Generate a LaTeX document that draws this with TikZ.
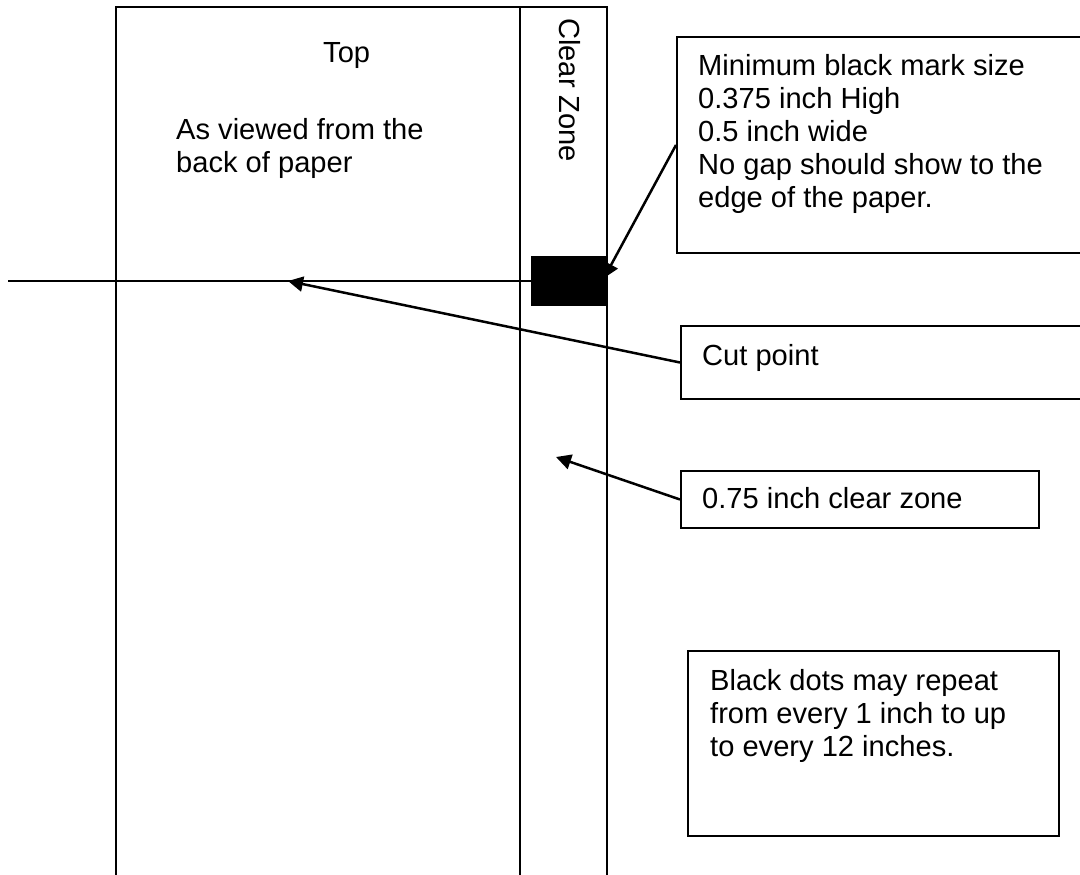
\documentclass[tikz,border=0pt]{standalone}
\usepackage{fontspec}
\setmainfont{Liberation Sans}
\usetikzlibrary{arrows.meta}
\begin{document}
\begin{tikzpicture}[x=1pt,y=-1pt,
  txt/.style={font=\fontsize{29.1}{33}\selectfont, inner sep=0pt, align=left, anchor=base west},
  boxstyle/.style={draw, line width=2pt, inner sep=0pt},
  papline/.style={line width=2pt},
  pointer/.style={line width=2.5pt, -{Triangle[length=15pt,width=15pt]}}]
\clip (0,0) rectangle (1080,875);
\fill[white] (0,0) rectangle (1080,875);
% paper
\draw[papline] (116,885) -- (116,7) -- (607,7) -- (607,885);
\draw[papline] (520,7) -- (520,885);
% black mark
\node[fill=black, minimum width=75pt, minimum height=50pt, inner sep=0pt] (mark) at (568.5,281) {};
\coordinate (cutL) at (8,281);
\draw[line width=2pt] (cutL) -- (mark.west);
% texts on paper (base anchor = baseline of the last line)
\node[txt] (top) at (323,63) {Top};
\node[txt] (viewed) at (176,172) {As viewed from the\\back of paper};
\node[txt, rotate=-90] (czlabel) at (559,18) {Clear Zone};
% boxes
\node[boxstyle, minimum width=404pt, minimum height=216pt] (box1) at (879,145) {};
\node[boxstyle, minimum width=400pt, minimum height=73pt] (boxcut) at (881,362.5) {};
\node[boxstyle, minimum width=358pt, minimum height=57pt] (boxcz) at (860,499.5) {};
\node[boxstyle, minimum width=371pt, minimum height=185pt] (boxdots) at (873.5,743.5) {};
% box texts
\node[txt] (t1) at (698,207) {Minimum black mark size\\0.375 inch High\\0.5 inch wide\\No gap should show to the\\edge of the paper.};
\node[txt] (t2) at (702,365) {Cut point};
\node[txt] (t3) at (702,508) {0.75 inch clear zone};
\node[txt] (t4) at (710,756) {Black dots may repeat\\from every 1 inch to up\\to every 12 inches.};
% pointers
\coordinate (markpt) at (604,278);
\coordinate (cutpt) at (288,281);
\coordinate (czpt) at (556,457);
\draw[pointer] (box1.west) -- (markpt);
\draw[pointer] (boxcut.west) -- (cutpt);
\draw[pointer] (boxcz.west) -- (czpt);
\end{tikzpicture}
\end{document}
